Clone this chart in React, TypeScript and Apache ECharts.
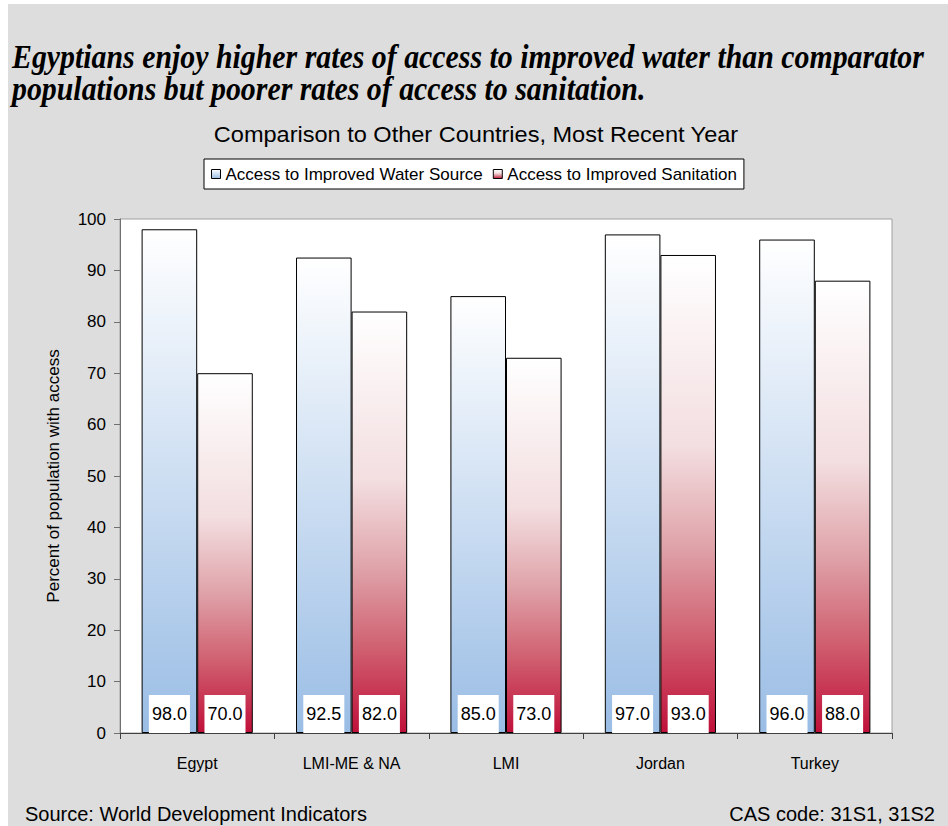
import React, { useEffect, useRef } from "react";
import * as echarts from "echarts";

// Chart data
const categories = ["Egypt", "LMI-ME & NA", "LMI", "Jordan", "Turkey"];
const waterAccess = [98.0, 92.5, 85.0, 97.0, 96.0];
const sanitationAccess = [70.0, 82.0, 73.0, 93.0, 88.0];
const seriesNames = ["Access to Improved Water Source", "Access to Improved Sanitation"];

const headlineLines = [
  "Egyptians enjoy higher rates of access to improved water than comparator",
  "populations but poorer rates of access to sanitation.",
];
const chartTitle = "Comparison to Other Countries, Most Recent Year";
const yAxisName = "Percent of population with access";
const sourceNote = "Source: World Development Indicators";
const codeNote = "CAS code: 31S1, 31S2";

const SANS = '"Liberation Sans", Arial, sans-serif';
const SERIF = '"Liberation Serif", "Times New Roman", serif';

export default function App() {
  const ref = useRef<HTMLDivElement>(null);

  useEffect(() => {
    if (!ref.current) return;
    const chart = echarts.init(ref.current, undefined, { renderer: "svg" });

    const waterFill = new echarts.graphic.LinearGradient(0, 0, 0, 1, [
      { offset: 0, color: "#ffffff" },
      { offset: 1, color: "#9abde5" },
    ]);
    const sanitationFill = new echarts.graphic.LinearGradient(0, 0, 0, 1, [
      { offset: 0, color: "#ffffff" },
      { offset: 0.4, color: "#f3dee0" },
      { offset: 0.6, color: "#e0a6ac" },
      { offset: 0.8, color: "#d06070" },
      { offset: 1, color: "#c0103a" },
    ]);

    const valueLabel = {
      show: true,
      position: "insideBottom",
      distance: 0,
      formatter: (p: any) => Number(p.value).toFixed(1),
      backgroundColor: "#ffffff",
      padding: [10, 3, 10, 3],
      color: "#000",
      fontSize: 18,
      lineHeight: 18,
      fontFamily: SANS,
    };

    const headline = (text: string, y: number) => ({
      type: "text",
      x: 4,
      y,
      scaleX: 0.878,
      style: {
        text,
        fontFamily: SERIF,
        fontStyle: "italic",
        fontWeight: "bold",
        fontSize: 34,
        fill: "#000",
        verticalAlign: "middle",
      },
    });

    chart.setOption({
      animation: false,
      backgroundColor: "#dddddd",
      textStyle: { fontFamily: SANS, color: "#000" },
      graphic: [
        headline(headlineLines[0], 52),
        headline(headlineLines[1], 84),
        {
          type: "text",
          x: 468,
          y: 130,
          scaleX: 1.07,
          style: {
            text: chartTitle,
            fontFamily: SANS,
            fontSize: 22,
            fill: "#000",
            align: "center",
            verticalAlign: "middle",
          },
        },
        {
          type: "text",
          x: 17,
          y: 810,
          style: {
            text: sourceNote,
            fontFamily: SANS,
            fontSize: 20,
            fill: "#000",
            verticalAlign: "middle",
          },
        },
        {
          type: "text",
          x: 927,
          y: 810,
          style: {
            text: codeNote,
            fontFamily: SANS,
            fontSize: 20,
            fill: "#000",
            align: "right",
            verticalAlign: "middle",
          },
        },
      ],
      legend: {
        data: seriesNames,
        top: 155,
        left: 196,
        orient: "horizontal",
        backgroundColor: "#ffffff",
        borderColor: "#000",
        borderWidth: 1,
        borderRadius: 0,
        padding: [6, 7, 6, 7],
        itemWidth: 9,
        itemHeight: 9,
        itemGap: 10,
        icon: "rect",
        itemStyle: { borderColor: "#000", borderWidth: 1 },
        textStyle: { fontFamily: SANS, fontSize: 17, lineHeight: 18, color: "#000" },
      },
      grid: {
        left: 112,
        top: 215,
        right: 56,
        bottom: 93,
        show: true,
        backgroundColor: "#ffffff",
        borderColor: "#a0a0a0",
        borderWidth: 1,
      },
      xAxis: {
        type: "category",
        data: categories,
        boundaryGap: true,
        axisLine: { show: true, lineStyle: { color: "#404040", width: 1 } },
        axisTick: { show: true, alignWithLabel: false, length: 6, lineStyle: { color: "#404040" } },
        axisLabel: { fontFamily: SANS, fontSize: 16, color: "#000", margin: 22 },
        splitLine: { show: false },
      },
      yAxis: {
        type: "value",
        min: 0,
        max: 100,
        interval: 10,
        name: yAxisName,
        nameLocation: "middle",
        nameGap: 58,
        nameTextStyle: { fontFamily: SANS, fontSize: 17, color: "#000" },
        axisLine: { show: true, lineStyle: { color: "#707070", width: 1 } },
        axisTick: { show: true, length: 6, lineStyle: { color: "#707070" } },
        axisLabel: { fontFamily: SANS, fontSize: 17, color: "#000", margin: 14 },
        splitLine: { show: false },
      },
      series: [
        {
          name: seriesNames[0],
          type: "bar",
          data: waterAccess,
          barWidth: "36%",
          barGap: "0%",
          itemStyle: { color: waterFill, borderColor: "#000", borderWidth: 1 },
          label: valueLabel,
        },
        {
          name: seriesNames[1],
          type: "bar",
          data: sanitationAccess,
          barWidth: "36%",
          barGap: "0%",
          itemStyle: { color: sanitationFill, borderColor: "#000", borderWidth: 1 },
          label: valueLabel,
        },
      ],
    });

    return () => chart.dispose();
  }, []);

  return (
    <div style={{ position: "fixed", left: 0, top: 0, width: 948, height: 826, background: "#ffffff" }}>
      <div ref={ref} style={{ position: "absolute", left: 8, top: 4, width: 940, height: 822 }} />
    </div>
  );
}
